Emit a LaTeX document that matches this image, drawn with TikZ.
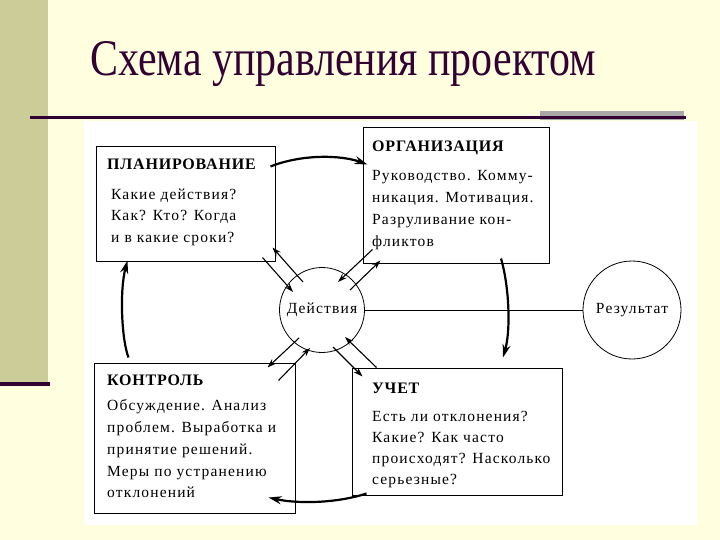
\documentclass[tikz,border=0pt]{standalone}
\usepackage{fontspec}
\usepackage{graphicx}
\setmainfont{Liberation Serif}
\newfontfamily\bxf[LetterSpace=7.5]{Liberation Serif}
\newfontfamily\hdf[LetterSpace=5]{Liberation Serif}
\usetikzlibrary{arrows.meta,calc}
\definecolor{bgyellow}{RGB}{255,255,224}
\definecolor{khaki}{RGB}{204,204,153}
\definecolor{plum}{RGB}{51,0,51}
\definecolor{bargray}{RGB}{168,168,168}
\begin{document}
\begin{tikzpicture}[x=1pt,y=-1pt,
  box/.style={draw=black, line width=1pt, rectangle, inner sep=0pt, fill=white},
  txt/.style={anchor=base west, inner sep=0pt, font=\bxf\fontsize{15.5}{18}\selectfont},
  headtxt/.style={anchor=base west, inner sep=0pt, font=\hdf\bfseries\fontsize{16}{18}\selectfont},
  ring/.style={draw=black, circle, line width=0.8pt, inner sep=0pt, fill=white, font=\bxf\fontsize{15.5}{18}\selectfont},
  bigarrow/.style={line width=2.2pt, -{Stealth[length=13pt,width=8pt]}},
  smallarrow/.style={line width=1.1pt, -{Stealth[length=9pt,width=6pt]}}]
\useasboundingbox (0,0) rectangle (720,540);
% background
\fill[bgyellow] (0,0) rectangle (720,540);
\fill[khaki] (0,0) rectangle (48,382);
\fill[plum] (0,382) rectangle (50,386);
\fill[bargray] (540,111) rectangle (684,120);
\fill[plum] (30,116) rectangle (686,119.5);
\fill[white] (84,121) rectangle (697,525);
% title
\node[anchor=base west, inner sep=0pt, text=plum] (title) at (90,76)
  {\resizebox{506pt}{34pt}{Схема управления проектом}};
% boxes
\node[box, minimum width=179pt, minimum height=114pt] (plan) at (185.5,204) {};
\node[box, minimum width=186pt, minimum height=135pt] (org) at (456,195.5) {};
\node[box, minimum width=201pt, minimum height=150pt] (ctrl) at (194.5,438) {};
\node[box, minimum width=210pt, minimum height=127pt] (uchet) at (457,431.5) {};
% circles
\node[ring, minimum size=85pt] (act) at (322,310) {Действия};
\node[ring, minimum size=98pt] (res) at (632,310) {Результат};
\draw[line width=1pt] (act.east) -- (res.west);
% texts: planning
\node[headtxt] (planH) at (107,170) {ПЛАНИРОВАНИЕ};
\node[txt] (plan1) at (111,200) {Какие действия?};
\node[txt] (plan2) at (111,221) {Как? Кто? Когда};
\node[txt] (plan3) at (111,242) {и в какие сроки?};
% organisation
\node[headtxt] (orgH) at (372,152) {ОРГАНИЗАЦИЯ};
\node[txt] (org1) at (372,181) {Руководство. Комму-};
\node[txt] (org2) at (372,203) {никация. Мотивация.};
\node[txt] (org3) at (372,224.5) {Разруливание кон-};
\node[txt] (org4) at (372,246) {фликтов};
% control
\node[headtxt] (ctrlH) at (107,385) {КОНТРОЛЬ};
\node[txt] (ctrl1) at (107,410) {Обсуждение. Анализ};
\node[txt] (ctrl2) at (107,432) {проблем. Выработка и};
\node[txt] (ctrl3) at (107,454) {принятие решений.};
\node[txt] (ctrl4) at (107,476) {Меры по устранению};
\node[txt] (ctrl5) at (107,497) {отклонений};
% accounting
\node[headtxt] (uchetH) at (372,393) {УЧЕТ};
\node[txt] (uchet1) at (372,421) {Есть ли отклонения?};
\node[txt] (uchet2) at (372,442) {Какие? Как часто};
\node[txt] (uchet3) at (372,463) {происходят? Насколько};
\node[txt] (uchet4) at (372,484) {серьезные?};
% thick cycle arrows
\draw[bigarrow] ($(plan.north east)+(-5,20)$) .. controls +(30,-12) and +(-28,-10) .. ($(org.north west)+(5,37)$);
\draw[bigarrow] ($(org.south)+(45,-5)$) .. controls +(8,27) and +(8,-28) .. ($(uchet.north)+(46,-10)$);
\draw[bigarrow] ($(uchet.south west)+(15,-2)$) .. controls +(-27,9) and +(32,7) .. ($(ctrl.south east)+(-27,-16)$);
\draw[bigarrow] ($(ctrl.north west)+(35,-5)$) .. controls +(-7,-18) and +(-8,30) .. ($(plan.south west)+(32,-1)$);
% thin arrows around the action circle
\draw[smallarrow] ($(plan.south east)+(-13,-4)$) -- ($(act.center)+(-29,-18)$);
\draw[smallarrow] ($(act.center)+(-19,-28)$) -- ($(plan.south east)+(-3,-14)$);
\draw[smallarrow] ($(org.south west)+(10,-14)$) -- ($(act.center)+(16,-28)$);
\draw[smallarrow] ($(act.center)+(28,-20)$) -- ($(org.south west)+(18,-3)$);
\draw[smallarrow] ($(act.center)+(-23,28)$) -- ($(ctrl.north east)+(-28,5)$);
\draw[smallarrow] ($(ctrl.north east)+(-17,18)$) -- ($(act.center)+(-12,38)$);
\draw[smallarrow] ($(act.center)+(11,37)$) -- ($(uchet.north west)+(11,9)$);
\draw[smallarrow] ($(uchet.north west)+(25,0)$) -- ($(act.center)+(23,27)$);
\end{tikzpicture}
\end{document}
